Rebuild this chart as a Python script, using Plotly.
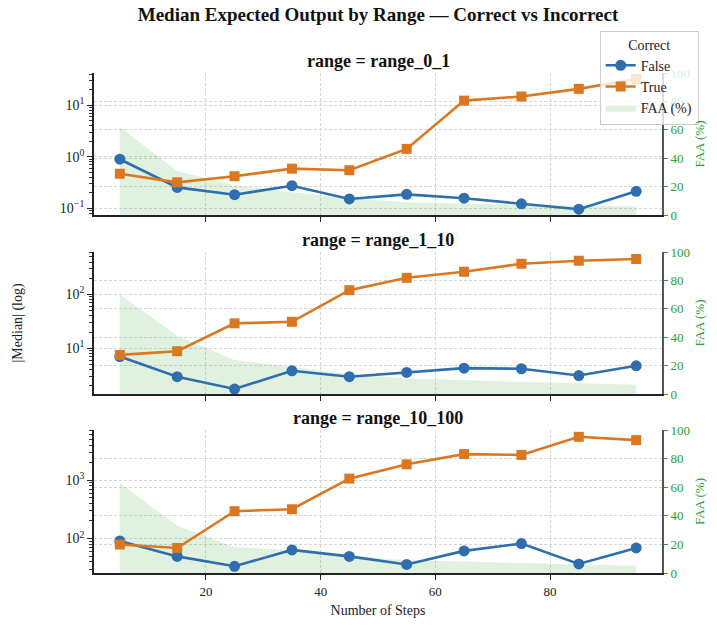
import numpy as np
import plotly.graph_objects as go

steps = [5, 15, 25, 35, 45, 55, 65, 75, 85, 95]
ranges = ["range_0_1", "range_1_10", "range_10_100"]

r0_1_false = [0.90, 0.255, 0.184, 0.275, 0.152, 0.187, 0.157, 0.122, 0.096, 0.214]
r0_1_true = [0.47, 0.32, 0.42, 0.59, 0.55, 1.43, 12.4, 14.9, 21.0, 32.7]
r0_1_faa = [62, 31, 21, 16, 12, 9, 8, 7, 6.5, 6]

r1_10_false = [7.0, 2.95, 1.74, 3.8, 2.95, 3.55, 4.26, 4.15, 3.1, 4.7]
r1_10_true = [7.5, 8.8, 29, 31, 120, 204, 265, 373, 424, 456]
r1_10_faa = [70, 41, 24, 19, 14, 11, 9.5, 8.5, 7.5, 6.5]

r10_100_false = [91, 49.5, 33.5, 64, 49.5, 36, 61.5, 82, 36.7, 69]
r10_100_true = [79, 69, 294, 318, 1064, 1870, 2800, 2710, 5540, 4860]
r10_100_faa = [63, 33, 18, 16, 12, 9, 8, 7, 6, 5]

false_vals = [r0_1_false, r1_10_false, r10_100_false]
true_vals = [r0_1_true, r1_10_true, r10_100_true]
faa_vals = [r0_1_faa, r1_10_faa, r10_100_faa]

log_ranges = [[-1.13, 1.63], [0.148, 2.79], [1.41, 3.86]]
domains = [[0.716, 1.0], [0.358, 0.642], [0.0, 0.286]]

BLUE = "#2f6eae"
ORANGE = "#da7720"
GREEN = "#2ca02c"
FONT = "Liberation Serif"
GRID = "#d6d6d6"
DASH = "3px,2px"

fig = go.Figure()
layout = {}

def sup(e):
    s = str(e).replace("-", "\u2212")
    return f"10<sup>{s}</sup>"

for i in range(3):
    xn = "" if i == 0 else str(i + 1)
    fa = 2 * i + 1
    lg = 2 * i + 2
    fa_name = "y" if fa == 1 else f"y{fa}"
    lg_name = f"y{lg}"
    xname = f"x{xn}"
    show_leg = i == 0

    fig.add_trace(go.Scatter(
        x=steps, y=faa_vals[i], xaxis=xname, yaxis=fa_name,
        mode="lines", line=dict(width=0, color="rgba(44,160,44,0.15)"),
        fill="tozeroy", fillcolor="rgba(44,160,44,0.15)",
        name="FAA (%)", legendgroup="faa", showlegend=show_leg, legendrank=3,
    ))
    fig.add_trace(go.Scatter(
        x=steps, y=false_vals[i], xaxis=xname, yaxis=lg_name,
        mode="lines+markers", line=dict(color=BLUE, width=2.6),
        marker=dict(symbol="circle", size=11, color=BLUE),
        name="False", legendgroup="false", showlegend=show_leg, legendrank=1,
    ))
    fig.add_trace(go.Scatter(
        x=steps, y=true_vals[i], xaxis=xname, yaxis=lg_name,
        mode="lines+markers", line=dict(color=ORANGE, width=2.6),
        marker=dict(symbol="square", size=10, color=ORANGE),
        name="True", legendgroup="true", showlegend=show_leg, legendrank=2,
    ))

    lo, hi = log_ranges[i]
    majors = [10.0 ** e for e in range(int(np.ceil(lo)), int(np.floor(hi)) + 1)]
    major_text = [sup(e) for e in range(int(np.ceil(lo)), int(np.floor(hi)) + 1)]
    minors = []
    for e in range(int(np.floor(lo)), int(np.ceil(hi)) + 1):
        for m in range(2, 10):
            v = m * 10.0 ** e
            if lo <= np.log10(v) <= hi:
                minors.append(v)

    layout[f"xaxis{xn}"] = dict(
        domain=[0, 1], range=[0.5, 99.5], anchor=fa_name,
        showline=True, linecolor="#222", linewidth=1.8,
        ticks="outside", ticklen=5, tickwidth=1.2, tickcolor="#222",
        tickvals=[20, 40, 60, 80], showticklabels=(i == 2),
        tickfont=dict(size=13, color="#222"),
        showgrid=True, gridcolor=GRID, griddash=DASH, gridwidth=1,
        zeroline=False, mirror=False,
        title=dict(text="Number of Steps" if i == 2 else "", font=dict(size=14, color="#222"), standoff=8),
    )
    layout["yaxis" if fa == 1 else f"yaxis{fa}"] = dict(
        domain=domains[i], range=[0, 100], anchor=xname, side="right",
        showline=True, linecolor="#555", linewidth=1.8,
        ticks="outside", ticklen=4, tickwidth=1.2, tickcolor=GREEN,
        tickvals=[0, 20, 40, 60, 80, 100],
        tickfont=dict(size=13, color=GREEN),
        showgrid=True, gridcolor=GRID, griddash=DASH, gridwidth=1,
        zeroline=False,
        title=dict(text="FAA (%)", font=dict(size=13, color=GREEN), standoff=6),
    )
    layout[f"yaxis{lg}"] = dict(
        type="log", range=[lo, hi], anchor=xname, overlaying=fa_name, side="left",
        showline=True, linecolor="#222", linewidth=1.8,
        ticks="outside", ticklen=5, tickwidth=1.2, tickcolor="#222",
        tickvals=majors, ticktext=major_text,
        tickfont=dict(size=14, color="#222"),
        showgrid=True, gridcolor=GRID, griddash=DASH, gridwidth=1,
        zeroline=False,
        minor=dict(ticks="outside", ticklen=3, tickwidth=1, tickcolor="#333",
                   tickvals=minors, showgrid=False),
    )

annotations = []
for i in range(3):
    annotations.append(dict(
        text=f"<b>range = {ranges[i]}</b>", xref="paper", yref="paper",
        x=0.5, y=domains[i][1], xanchor="center", yanchor="bottom", yshift=0,
        showarrow=False, font=dict(size=18, color="#111", family=FONT),
    ))
annotations.append(dict(
    text="|Median| (log)", xref="paper", yref="paper", x=-0.133, y=0.5,
    xanchor="center", yanchor="middle", textangle=-90, showarrow=False,
    font=dict(size=14, color="#222", family=FONT),
))

fig.update_layout(
    **layout,
    width=717, height=628,
    margin=dict(l=94, r=50, t=73, b=49),
    paper_bgcolor="white", plot_bgcolor="white",
    font=dict(family=FONT, size=13, color="#222"),
    title=dict(text="<b>Median Expected Output by Range \u2014 Correct vs Incorrect</b>",
               x=0.5, xref="paper", y=1 - 14 / 628, yref="container",
               xanchor="center", yanchor="middle",
               font=dict(size=19, color="#111", family=FONT)),
    annotations=annotations,
    showlegend=True,
    legend=dict(
        x=1.0646, y=1.085, xanchor="right", yanchor="top",
        xref="paper", yref="paper",
        bgcolor="rgba(255,255,255,0.8)", bordercolor="#cccccc", borderwidth=1,
        title=dict(text="Correct", side="top center", font=dict(size=14)),
        font=dict(size=14, color="#222"), tracegroupgap=0,
        itemwidth=30,
    ),
)

fig.write_html("out.html")
